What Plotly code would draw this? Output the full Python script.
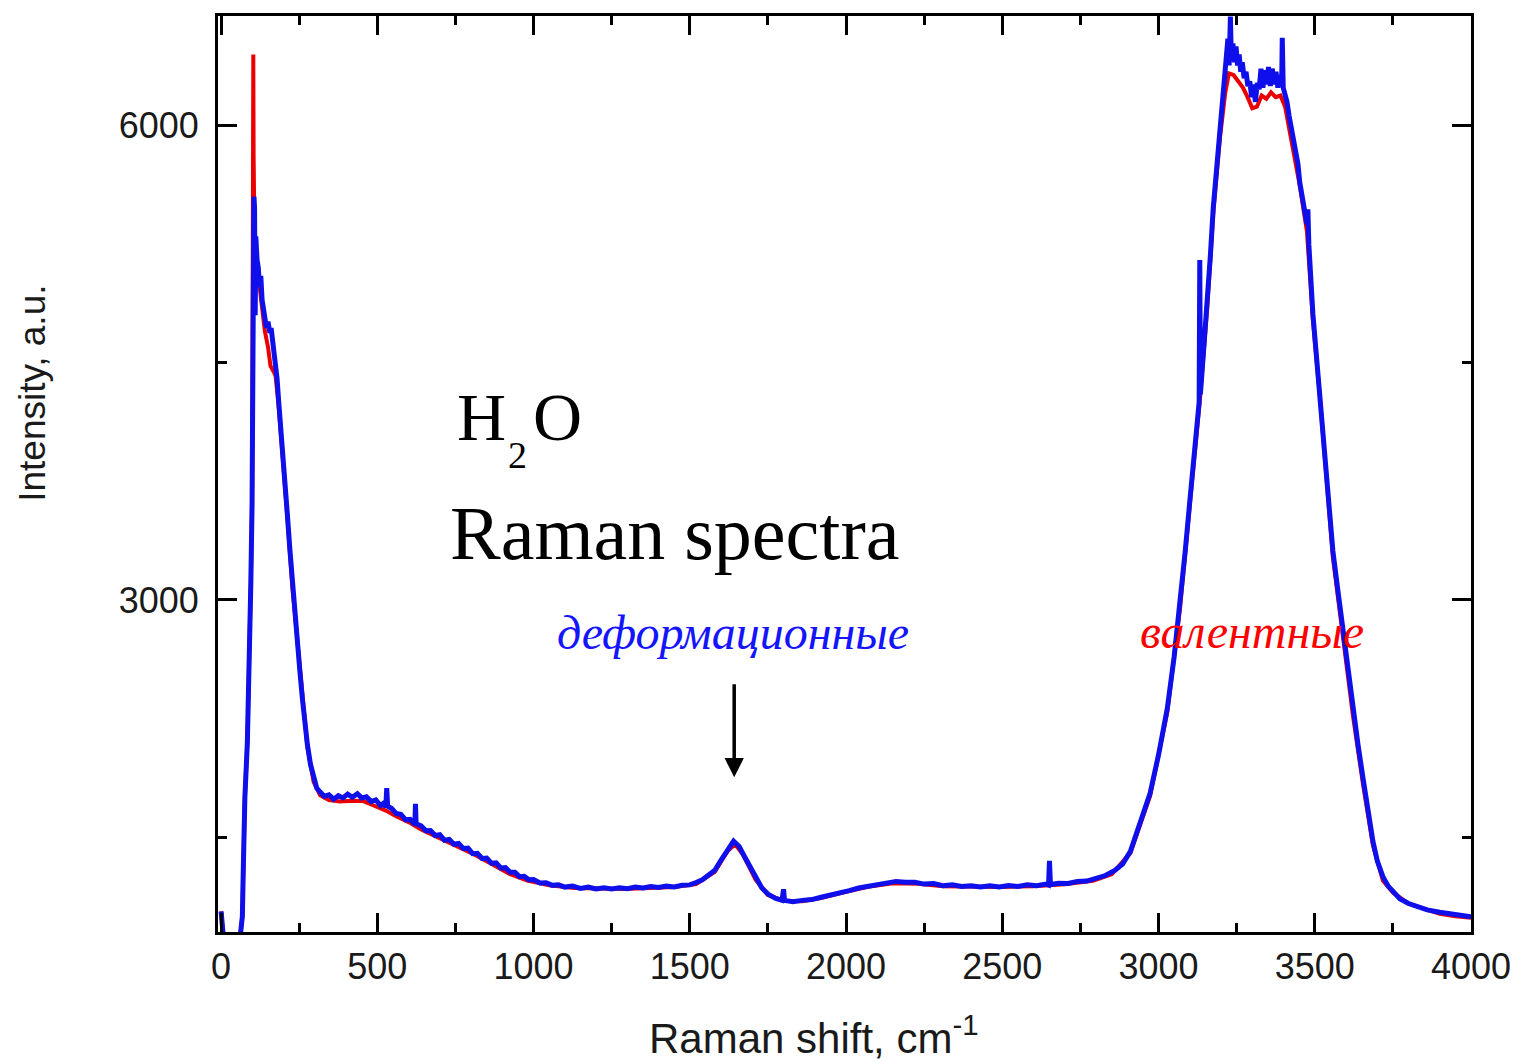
import plotly.graph_objects as go

# ---- Blue spectrum (Raman shift, cm-1 / intensity, a.u.) ----
blue_shift = [
    0, 8, 60, 68, 71, 76, 84, 90, 95, 99,
    101, 103, 105, 107, 109, 111, 115, 119, 123, 127,
    131, 135, 140, 145, 150, 156, 160, 164, 169, 174,
    179, 184, 190, 196, 204, 212, 220, 228, 236, 244,
    252, 260, 268, 276, 286, 296, 306, 317, 330, 345,
    360, 375, 390, 405, 420, 436, 450, 465, 480, 495,
    510, 520, 527, 530, 533, 545, 560, 575, 590, 605,
    620, 622, 624, 640, 655, 670, 685, 700, 715, 730,
    745, 760, 775, 790, 805, 820, 835, 850, 865, 880,
    895, 910, 925, 940, 955, 970, 985, 1000, 1020, 1040,
    1060, 1080, 1100, 1125, 1150, 1175, 1200, 1225, 1250, 1275,
    1300, 1325, 1350, 1375, 1400, 1425, 1450, 1475, 1500, 1520,
    1540, 1560, 1580, 1600, 1615, 1630, 1640, 1648, 1658, 1670,
    1685, 1700, 1715, 1730, 1750, 1775, 1795, 1800, 1803, 1830,
    1860, 1890, 1920, 1950, 1980, 2010, 2040, 2070, 2100, 2130,
    2160, 2190, 2220, 2250, 2280, 2310, 2340, 2370, 2400, 2430,
    2460, 2490, 2520, 2550, 2580, 2610, 2640, 2648, 2651, 2654,
    2680, 2710, 2740, 2770, 2800, 2830, 2860, 2885, 2910, 2940,
    2973, 3000, 3028, 3050, 3069, 3085, 3101, 3117, 3130, 3132,
    3134, 3145, 3156, 3166, 3175, 3186, 3197, 3205, 3212, 3218,
    3222, 3226, 3230, 3233, 3238, 3243, 3248, 3253, 3258, 3263,
    3268, 3274, 3280, 3286, 3292, 3298, 3304, 3310, 3316, 3322,
    3328, 3334, 3340, 3346, 3352, 3358, 3364, 3370, 3376, 3382,
    3388, 3394, 3396, 3399, 3405, 3411, 3418, 3425, 3432, 3440,
    3446, 3452, 3460, 3468, 3475, 3478, 3481, 3494, 3505, 3517,
    3528, 3539, 3548, 3558, 3574, 3590, 3606, 3622, 3638, 3654,
    3670, 3686, 3700, 3718, 3735, 3750, 3772, 3800, 3827, 3860,
    3900, 3940, 3970, 4000,
]
blue_intensity = [
    1030, 850, 850, 1000, 1300, 1750, 2100, 2550, 3100, 3600,
    4500, 5300, 5550, 5480, 4800, 5300, 5150, 5100, 4980, 5050,
    4900, 4840, 4780, 4720, 4760, 4690, 4720, 4660, 4600, 4520,
    4400, 4260, 4120, 3970, 3760, 3540, 3320, 3100, 2910, 2735,
    2550, 2376, 2220, 2086, 1960, 1866, 1810, 1785, 1758, 1768,
    1740, 1762, 1748, 1772, 1752, 1774, 1748, 1755, 1725, 1735,
    1700, 1715, 1690, 1810, 1695, 1683, 1650, 1645, 1610, 1612,
    1580, 1710, 1585, 1572, 1540, 1542, 1510, 1515, 1480, 1485,
    1455, 1460, 1428, 1430, 1395, 1398, 1365, 1367, 1335, 1337,
    1305, 1307, 1278, 1278, 1250, 1252, 1230, 1232, 1210, 1212,
    1195, 1198, 1184, 1190, 1176, 1184, 1172, 1180, 1172, 1180,
    1174, 1184, 1178, 1188, 1181, 1190, 1185, 1196, 1198, 1213,
    1230, 1260, 1290, 1355, 1400, 1450, 1475, 1460, 1440, 1395,
    1340, 1280, 1225, 1180, 1140, 1112, 1100, 1170, 1100, 1092,
    1100, 1105, 1120, 1132, 1150, 1162, 1178, 1190, 1203, 1210,
    1220, 1214, 1215, 1203, 1206, 1193, 1198, 1188, 1193, 1185,
    1193, 1185, 1194, 1188, 1198, 1192, 1203, 1197, 1350, 1200,
    1208, 1207, 1220, 1222, 1240, 1257, 1290, 1330, 1410, 1580,
    1777, 2020, 2313, 2640, 2975, 3300, 3643, 3980, 4250, 5150,
    4300, 4600, 4878, 5180, 5477, 5740, 5980, 6150, 6350, 6420,
    6550, 6380, 6690, 6420, 6520, 6400, 6500, 6380, 6450, 6340,
    6400, 6300, 6340, 6250, 6280, 6180, 6260, 6150, 6270, 6230,
    6360, 6240, 6350, 6260, 6370, 6250, 6360, 6260, 6340, 6240,
    6320, 6250, 6555, 6240, 6200, 6150, 6060, 5980, 5900, 5820,
    5760, 5640, 5530, 5440, 5376, 5470, 5250, 4809, 4550, 4311,
    4060, 3813, 3560, 3309, 3060, 2811, 2560, 2313, 2090, 1878,
    1670, 1475, 1350, 1250, 1190, 1160, 1110, 1080, 1060, 1040,
    1025, 1015, 1005, 996,
]

# ---- Red spectrum ----
red_shift = [
    0, 8, 60, 68, 71, 76, 84, 90, 95, 99,
    101, 102, 103, 104, 106, 109, 112, 118, 125, 131,
    140, 150, 158, 166, 174, 184, 196, 212, 228, 244,
    260, 276, 296, 317, 345, 380, 420, 455, 488, 527,
    560, 600, 640, 680, 720, 760, 810, 870, 920, 980,
    1050, 1130, 1210, 1290, 1370, 1450, 1520, 1580, 1620, 1645,
    1670, 1710, 1750, 1800, 1860, 1920, 1990, 2070, 2150, 2230,
    2310, 2400, 2500, 2600, 2700, 2790, 2850, 2910, 2973, 3028,
    3069, 3101, 3133, 3156, 3175, 3197, 3213, 3225, 3240, 3255,
    3270, 3285, 3300, 3315, 3330, 3345, 3360, 3375, 3390, 3405,
    3420, 3436, 3452, 3475, 3494, 3517, 3539, 3558, 3590, 3622,
    3654, 3686, 3718, 3750, 3800, 3850, 3900, 3950, 4000,
]
red_intensity = [
    1030, 850, 850, 1000, 1300, 1750, 2100, 2550, 3100, 3600,
    4500, 6000, 6450, 5800, 5450, 4900, 5200, 5050, 4950, 4850,
    4700, 4600, 4480, 4450, 4420, 4230, 3950, 3520, 3080, 2720,
    2360, 2070, 1850, 1765, 1735, 1725, 1730, 1728, 1700, 1668,
    1632, 1595, 1548, 1510, 1475, 1440, 1390, 1325, 1270, 1225,
    1195, 1178, 1172, 1172, 1178, 1184, 1203, 1280, 1410, 1455,
    1390, 1232, 1133, 1098, 1095, 1114, 1150, 1186, 1208, 1205,
    1190, 1185, 1185, 1190, 1202, 1224, 1265, 1400, 1760, 2290,
    2950, 3620, 4280, 4850, 5440, 5930, 6200, 6330, 6320, 6280,
    6240, 6180, 6110, 6120, 6190, 6170, 6210, 6180, 6190, 6120,
    5960, 5790, 5620, 5330, 4770, 4270, 3770, 3270, 2770, 2270,
    1840, 1450, 1225, 1150, 1080, 1045, 1015, 1000, 990,
]

x_tick_vals = [0, 500, 1000, 1500, 2000, 2500, 3000, 3500, 4000]
x_tick_text = ["0", "500", "1000", "1500", "2000", "2500", "3000", "3500", "4000"]
y_tick_vals = [3000, 6000]
y_tick_text = ["3000", "6000"]

fig = go.Figure()
fig.add_trace(go.Scatter(x=red_shift, y=red_intensity, mode="lines",
                         line=dict(color="rgb(235,0,0)", width=4), showlegend=False))
fig.add_trace(go.Scatter(x=blue_shift, y=blue_intensity, mode="lines",
                         line=dict(color="rgb(15,15,235)", width=5), showlegend=False))

axis_common = dict(
    showgrid=False, zeroline=False, showline=True, linecolor="black", linewidth=3,
    mirror="allticks", ticks="inside", tickcolor="black", tickwidth=3, ticklen=19,
    tickfont=dict(family="Liberation Sans, Arial, sans-serif", size=36, color="#1a1a1a"),
)

fig.update_xaxes(range=[-10, 4000], tickmode="array", tickvals=x_tick_vals, ticktext=x_tick_text,
                 minor=dict(ticks="inside", dtick=250, tick0=0, ticklen=9, tickwidth=3, tickcolor="black"),
                 ticklabelstandoff=1, **axis_common)
fig.update_yaxes(range=[900, 6693], tickmode="array", tickvals=y_tick_vals, ticktext=y_tick_text,
                 minor=dict(ticks="inside", dtick=1500, tick0=0, ticklen=9, tickwidth=3, tickcolor="black"),
                 ticklabelstandoff=9, **axis_common)

serif = "Liberation Serif, Times New Roman, serif"
sans = "Liberation Sans, Arial, sans-serif"

annotations = [
    dict(text="H", x=750, y=4160, xref="x", yref="y", xanchor="left", yanchor="middle",
         showarrow=False, font=dict(family=serif, size=68, color="black")),
    dict(text="2", x=913, y=3914, xref="x", yref="y", xanchor="left", yanchor="middle",
         showarrow=False, font=dict(family=serif, size=38, color="black")),
    dict(text="O", x=993, y=4160, xref="x", yref="y", xanchor="left", yanchor="middle",
         showarrow=False, font=dict(family=serif, size=68, color="black")),
    dict(text="Raman spectra", x=725, y=3422, xref="x", yref="y", xanchor="left", yanchor="middle",
         showarrow=False, font=dict(family=serif, size=76, color="black")),
    dict(text="деформационные", x=1639, y=2792, xref="x", yref="y", xanchor="center", yanchor="middle",
         showarrow=False, font=dict(family=serif, size=48, color="rgb(20,20,255)", style="italic")),
    dict(text="валентные", x=3299, y=2800, xref="x", yref="y", xanchor="center", yanchor="middle",
         showarrow=False, font=dict(family=serif, size=48, color="rgb(255,0,0)", style="italic")),
    dict(text="", x=1642, y=1878, xref="x", yref="y", ax=1642, ay=2477, axref="x", ayref="y",
         showarrow=True, arrowhead=2, arrowsize=1.1, arrowwidth=3.5, arrowcolor="black"),
    dict(text="Raman shift, cm<sup>-1</sup>", x=0.476, y=-0.112, xref="paper", yref="paper",
         xanchor="center", yanchor="middle", showarrow=False,
         font=dict(family=sans, size=42, color="#1a1a1a")),
    dict(text="Intensity, a.u.", x=-0.1476, y=0.5876, xref="paper", yref="paper", textangle=-90,
         xanchor="center", yanchor="middle", showarrow=False,
         font=dict(family=sans, size=37, color="#1a1a1a")),
]

# The page adds an 8px body margin, so the figure is sized/offset to compensate.
fig.update_layout(
    width=1510, height=1054,
    margin=dict(l=210, r=47, t=5, b=130),
    paper_bgcolor="white", plot_bgcolor="white",
    showlegend=False,
    annotations=annotations,
)

fig.write_html("out.html")
